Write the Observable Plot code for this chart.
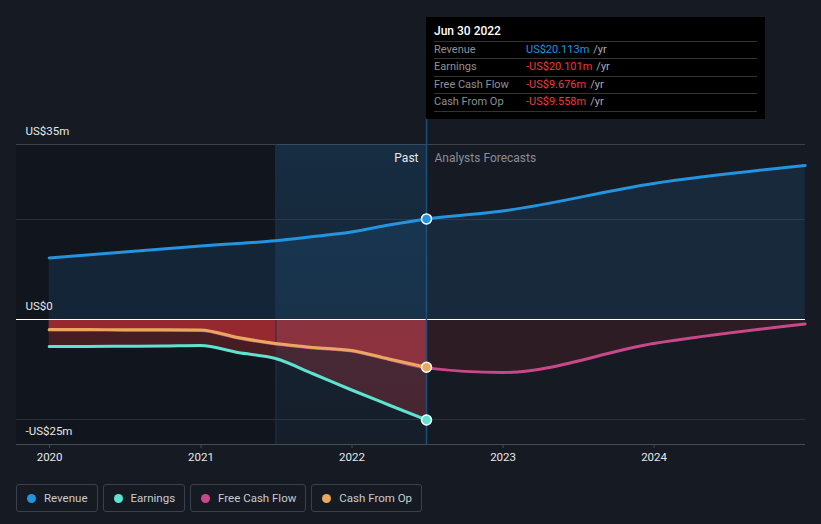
<!DOCTYPE html>
<html>
<head>
<meta charset="utf-8">
<script src="https://cdn.jsdelivr.net/npm/d3@7"></script>
<script src="https://cdn.jsdelivr.net/npm/@observablehq/plot@0.6"></script>
<style>
  html, body { margin: 0; padding: 0; background: #151a23; }
  body { width: 821px; height: 524px; overflow: hidden; position: relative; font-family: Roboto, "Noto Sans", sans-serif; }
  #chart { position: absolute; left: 0; top: 0; }
  #tip { position: absolute; left: 426px; top: 17px; width: 339px; height: 102px; background: #000; box-sizing: border-box; padding: 0 8px; }
  #tip .date { color: #fff; font-size: 12px; font-weight: 500; height: 23.5px; line-height: 28px; border-bottom: 1px solid #333; }
  #tip .row { display: flex; height: 16.5px; line-height: 16px; font-size: 11px; border-bottom: 1px solid #333; }
  #tip .lab { width: 92px; color: #8d9096; }
  #tip .unit { color: #a9abb0; margin-left: 4px; }
  #legend { position: absolute; left: 16px; top: 484px; display: flex; gap: 5px; }
  #legend .item { height: 28px; box-sizing: border-box; border: 1px solid #3b414c; border-radius: 3px; display: flex; align-items: center; padding: 0 9px 0 10px; color: #c9cbcf; font-size: 11.5px; }
  #legend .dot { width: 9px; height: 9px; border-radius: 50%; margin-right: 8px; }
</style>
</head>
<body>
<div id="chart"></div>
<div id="tip"></div>
<div id="legend"></div>
<script>
// ---- data ----
const pastDates = ["2019-12-31","2020-03-31","2020-06-30","2020-09-30","2020-12-31","2021-03-31","2021-06-30","2021-09-30","2021-12-31","2022-03-31","2022-06-30"];
const revenuePast = [12.3, 12.9, 13.5, 14.1, 14.7, 15.2, 15.75, 16.6, 17.5, 18.9, 20.113];
const earningsPast = [-5.4, -5.4, -5.35, -5.3, -5.2, -6.6, -7.8, -10.9, -14.1, -17.1, -20.101];
const cfoPast = [-2.0, -2.0, -2.05, -2.05, -2.1, -3.6, -4.8, -5.6, -6.2, -7.9, -9.558];
const fcfPast = [-2.1, -2.1, -2.15, -2.15, -2.2, -3.7, -4.9, -5.7, -6.3, -8.0, -9.676];
const forecastDates = ["2022-06-30","2022-12-31","2023-12-31","2024-12-31"];
const revenueForecast = [20.113, 21.7, 27.2, 30.8];
const fcfForecast = [-9.676, -10.6, -4.8, -0.9];
const xDomain = ["2019-10-13", "2025-01-01"];
const highlightStart = "2021-07-01";
const forecastStart = "2022-06-30";
const yDomain = [-25, 35];
const yLabelValues = [35, 0, -25];
const yLabelTexts = ["US$35m", "US$0", "-US$25m"];
const gridValues = [20, -20];
const yearTicks = ["2020-01-01","2021-01-01","2022-01-01","2023-01-01","2024-01-01"];
const seriesNames = ["Revenue", "Earnings", "Free Cash Flow", "Cash From Op"];
const seriesColors = ["#2394df", "#5fe3d1", "#c8488a", "#e8a85e"];
const tipDate = "Jun 30 2022";
const tipValues = ["US$20.113m", "-US$20.101m", "-US$9.676m", "-US$9.558m"];

// ---- build ----
const D = s => new Date(s + "T00:00:00Z");
const mk = (dates, vals) => dates.map((d, i) => ({date: D(d), value: vals[i]}));
const revenue = mk(pastDates, revenuePast).concat(mk(forecastDates, revenueForecast).slice(1));
const earnings = mk(pastDates, earningsPast);
const cfo = mk(pastDates, cfoPast);
const fcf = mk(pastDates, fcfPast).concat(mk(forecastDates, fcfForecast).slice(1));
const fcfFut = mk(forecastDates, fcfForecast);
const [cRev, cEarn, cFcf, cCfo] = seriesColors;
const last = arr => arr[pastDates.length - 1];
const fs = D(forecastStart);

const chart = Plot.plot({
  width: 821,
  height: 470,
  marginLeft: 16,
  marginRight: 16,
  marginTop: 144,
  marginBottom: 26,
  style: {background: "transparent", fontFamily: "Roboto, sans-serif"},
  x: {type: "utc", domain: xDomain.map(D)},
  y: {domain: yDomain, axis: null},
  marks: [
    Plot.rect([{}], {x1: () => D(xDomain[0]), x2: () => D(highlightStart), y1: () => yDomain[0], y2: () => yDomain[1], fill: "#000", fillOpacity: 0.17}),
    Plot.ruleY(gridValues, {stroke: "#2b313b", strokeWidth: 1}),
    Plot.ruleY([yDomain[1]], {stroke: "#3c424c", strokeWidth: 1}),
    Plot.areaY(revenue, {x: "date", y: "value", fill: cRev, fillOpacity: 0.13, curve: "monotone-x"}),
    Plot.areaY(earnings, {x: "date", y: "value", fill: "#e5353b", fillOpacity: 0.26, curve: "monotone-x"}),
    Plot.areaY(cfo, {x: "date", y: "value", fill: "#e5353b", fillOpacity: 0.5, curve: "monotone-x"}),
    Plot.areaY(fcfFut, {x: "date", y: "value", fill: "#e5353b", fillOpacity: 0.12, curve: "monotone-x"}),
    Plot.rect([{}], {x1: () => D(highlightStart), x2: () => fs, y1: () => yDomain[0], y2: () => yDomain[1], fill: "url(#hl)"}),
    Plot.ruleX([D(highlightStart)], {y1: yDomain[0], y2: yDomain[1], stroke: "#1c3347", strokeWidth: 1}),
    Plot.ruleY([0], {stroke: "#ffffff", strokeWidth: 1.2}),
    Plot.ruleY([yDomain[0]], {stroke: "#464c56", strokeWidth: 1}),
    Plot.ruleX([fs], {y1: yDomain[0], y2: 40.2, stroke: "#1e4f78", strokeWidth: 1.5}),
    Plot.line(revenue, {x: "date", y: "value", stroke: cRev, strokeWidth: 3, curve: "monotone-x"}),
    Plot.line(earnings, {x: "date", y: "value", stroke: cEarn, strokeWidth: 3, curve: "monotone-x"}),
    Plot.line(fcf, {x: "date", y: "value", stroke: cFcf, strokeWidth: 3, curve: "monotone-x"}),
    Plot.line(cfo, {x: "date", y: "value", stroke: cCfo, strokeWidth: 3, curve: "monotone-x"}),
    Plot.dot([{date: fs, value: last(revenuePast), c: cRev}, {date: fs, value: last(earningsPast), c: cEarn}, {date: fs, value: last(cfoPast), c: cCfo}],
      {x: "date", y: "value", fill: "c", r: 5, stroke: "#ffffff", strokeWidth: 1.5}),
    Plot.text(["Past"], {x: () => fs, frameAnchor: "top", dy: 9, dx: -8, textAnchor: "end", fill: "#e8e8e8", fontSize: 12}),
    Plot.text(["Analysts Forecasts"], {x: () => fs, frameAnchor: "top", dy: 9, dx: 8, textAnchor: "start", fill: "#8a8e96", fontSize: 12}),
    Plot.text(yLabelValues, {y: d => d, text: (d, i) => yLabelTexts[i], frameAnchor: "left", dx: 9, dy: -13, textAnchor: "start", fill: "#e8e8e8", fontSize: 11.5}),
    Plot.axisX({ticks: yearTicks.map(D), tickFormat: d3.utcFormat("%Y"), tickSize: 4, stroke: "#464c56", tickPadding: 4, fill: "#e8e8e8", fontSize: 11.5, label: null})
  ]
});

// gradient for the highlighted past period
const ns = "http://www.w3.org/2000/svg";
const defs = document.createElementNS(ns, "defs");
defs.innerHTML = '<linearGradient id="hl" x1="0" y1="0" x2="0" y2="1"><stop offset="0" stop-color="#1e78c0" stop-opacity="0.2"/><stop offset="1" stop-color="#1e78c0" stop-opacity="0.04"/></linearGradient>';
chart.insertBefore(defs, chart.firstChild);
document.getElementById("chart").appendChild(chart);

// tooltip
const tip = document.getElementById("tip");
const valColors = [cRev, "#ec3b3f", "#ec3b3f", "#ec3b3f"];
let html = `<div class="date">${tipDate}</div>`;
seriesNames.forEach((n, i) => {
  html += `<div class="row"><span class="lab">${n}</span><span style="color:${valColors[i]}">${tipValues[i]}</span><span class="unit">/yr</span></div>`;
});
tip.innerHTML = html;

// legend
const legend = document.getElementById("legend");
seriesNames.forEach((n, i) => {
  const it = document.createElement("div");
  it.className = "item";
  it.innerHTML = `<span class="dot" style="background:${seriesColors[i]}"></span>${n}`;
  legend.appendChild(it);
});
</script>
</body>
</html>
